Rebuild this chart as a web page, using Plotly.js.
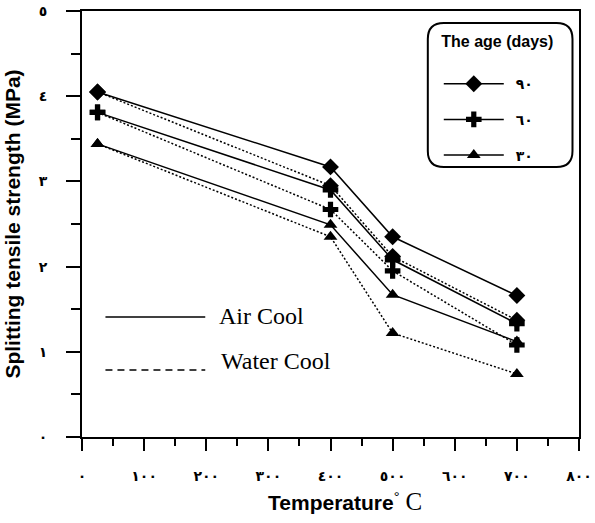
<!DOCTYPE html>
<html>
<head>
<meta charset="utf-8">
<script src="https://cdn.plot.ly/plotly-3.0.1.min.js"></script>
<style>html,body{margin:0;padding:0;background:#fff;}#chart{width:595px;height:523px;}</style>
</head>
<body>
<div id="chart"></div>
<script>
// ---- data ----
const temps = [25, 400, 500, 700];
const air90 = [4.05, 3.17, 2.35, 1.66];
const air60 = [3.81, 2.90, 2.08, 1.33];
const air30 = [3.44, 2.49, 1.67, 1.12];
const water90 = [4.05, 2.95, 2.12, 1.37];
const water60 = [3.81, 2.67, 1.95, 1.08];
const water30 = [3.44, 2.35, 1.22, 0.74];
const ageLabels = ['٩٠', '٦٠', '٣٠'];
const xTickVals = [0, 100, 200, 300, 400, 500, 600, 700, 800];
const xTickText = ['٠', '١٠٠', '٢٠٠', '٣٠٠', '٤٠٠', '٥٠٠', '٦٠٠', '٧٠٠', '٨٠٠'];
const yTickVals = [0, 1, 2, 3, 4, 5];
const yTickText = ['٠', '١', '٢', '٣', '٤', '٥'];

// ---- geometry helpers (for decorations only) ----
const W = 595, H = 523;
const M = {l: 81.5, r: 15.5, t: 11, b: 86};
const PW = W - M.l - M.r, PH = H - M.t - M.b;
const px = x => (x - M.l) / PW;
const py = y => (H - M.b - y) / PH;

function roundRect(x0, y0, x1, y1, r) {
  const p = (x, y) => px(x).toFixed(4) + ',' + py(y).toFixed(4);
  return 'M' + p(x0 + r, y0) + ' L' + p(x1 - r, y0) + ' Q' + p(x1, y0) + ' ' + p(x1, y0 + r) +
    ' L' + p(x1, y1 - r) + ' Q' + p(x1, y1) + ' ' + p(x1 - r, y1) +
    ' L' + p(x0 + r, y1) + ' Q' + p(x0, y1) + ' ' + p(x0, y1 - r) +
    ' L' + p(x0, y0 + r) + ' Q' + p(x0, y0) + ' ' + p(x0 + r, y0) + ' Z';
}

const symbols = ['diamond', 'cross', 'triangle-up'];
const sizes = [13, 13, 12];
const airSets = [air90, air60, air30];
const waterSets = [water90, water60, water30];

const traces = [];
waterSets.forEach((ys, i) => {
  traces.push({
    x: temps, y: ys, type: 'scatter', mode: 'lines+markers',
    name: 'Water ' + ageLabels[i], showlegend: false,
    line: {color: 'black', width: 1.5, dash: '2px,2px'},
    marker: {symbol: symbols[i], size: sizes[i], color: 'black'}
  });
});
airSets.forEach((ys, i) => {
  traces.push({
    x: temps, y: ys, type: 'scatter', mode: 'lines+markers',
    name: '\u2002' + ageLabels[i], legendgroup: 'g' + i,
    line: {color: 'black', width: 1.5},
    marker: {symbol: symbols[i], size: sizes[i], color: 'black'}
  });
});

const layout = {
  width: W, height: H,
  margin: M,
  paper_bgcolor: 'white', plot_bgcolor: 'white',
  showlegend: true,
  legend: {
    x: px(439), y: py(26.5), xanchor: 'left', yanchor: 'top',
    bgcolor: 'rgba(0,0,0,0)', borderwidth: 0,
    traceorder: 'grouped', tracegroupgap: 14.5,
    indentation: 0,
    font: {family: 'DejaVu Sans', size: 14, color: 'black', weight: 'bold'},
    title: {text: 'The age (days)<br>&nbsp;', side: 'top center',
      font: {family: 'Liberation Sans, Arial', size: 16, color: 'black', weight: 'bold'}},
    itemwidth: 60
  },
  xaxis: {
    range: [0, 800], tickmode: 'array', tickvals: xTickVals, ticktext: xTickText,
    ticks: 'outside', ticklen: 12, tickwidth: 2, tickcolor: 'black',
    showline: true, linewidth: 2, linecolor: 'black', mirror: true,
    showgrid: false, zeroline: false,
    ticklabelstandoff: 13,
    tickfont: {family: 'DejaVu Sans', size: 14, color: 'black', weight: 'bold'},
    minor: {tickmode: 'linear', tick0: 0, dtick: 50, ticks: 'outside', ticklen: 7, tickwidth: 2, tickcolor: 'black', showgrid: false},
    title: {
      text: '&nbsp;&nbsp;&nbsp;&nbsp;&nbsp;<b>Temperature</b><sup>°</sup> <span style="font-family:Liberation Serif;font-size:25px;font-weight:normal">C</span>',
      font: {family: 'Liberation Sans, Arial', size: 21, color: 'black'},
      standoff: 13
    }
  },
  yaxis: {
    range: [0, 5], tickmode: 'array', tickvals: yTickVals, ticktext: yTickText,
    ticks: 'outside', ticklen: 14, tickwidth: 2, tickcolor: 'black',
    showline: true, linewidth: 2, linecolor: 'black', mirror: true,
    showgrid: false, zeroline: false,
    ticklabelstandoff: 16,
    tickfont: {family: 'DejaVu Sans', size: 14, color: 'black', weight: 'bold'},
    minor: {tickmode: 'linear', tick0: 0, dtick: 0.5, ticks: 'outside', ticklen: 9, tickwidth: 2, tickcolor: 'black', showgrid: false},
    title: {
      text: 'Splitting tensile strength (MPa)',
      font: {family: 'Liberation Sans, Arial', size: 21, color: 'black', weight: 'bold'},
      standoff: 12
    }
  },
  shapes: [
    {type: 'path', xref: 'paper', yref: 'paper', path: roundRect(428, 23, 573, 167, 16),
      line: {color: 'black', width: 2}, fillcolor: 'rgba(0,0,0,0)'},
    {type: 'line', xref: 'paper', yref: 'paper', x0: px(105), x1: px(205), y0: py(317), y1: py(317),
      line: {color: 'black', width: 1.5}},
    {type: 'line', xref: 'paper', yref: 'paper', x0: px(105), x1: px(205), y0: py(370), y1: py(370),
      line: {color: 'black', width: 1.5, dash: '7px,5px'}}
  ],
  annotations: [
    {text: 'Air Cool', xref: 'paper', yref: 'paper', x: px(217), y: py(316), xanchor: 'left', yanchor: 'middle',
      showarrow: false, font: {family: 'Liberation Serif, Times New Roman', size: 24, color: 'black'}},
    {text: 'Water Cool', xref: 'paper', yref: 'paper', x: px(219), y: py(361), xanchor: 'left', yanchor: 'middle',
      showarrow: false, font: {family: 'Liberation Serif, Times New Roman', size: 24, color: 'black'}}
  ]
};

Plotly.newPlot('chart', traces, layout, {displayModeBar: false, staticPlot: true});
</script>
</body>
</html>
